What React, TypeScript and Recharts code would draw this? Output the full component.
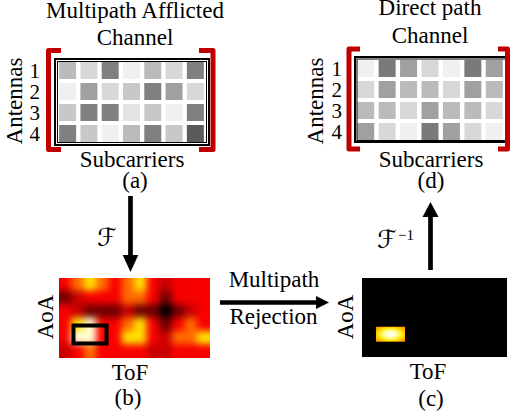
import { ScatterChart, Scatter, XAxis, YAxis, ReferenceArea } from 'recharts';

const SERIF = "'Liberation Serif', Tinos, 'DejaVu Serif', serif";
const RED = '#c00000';

// antenna x subcarrier magnitudes (grey level 0-255), rows = antennas 1..4
const antennas = ['1', '2', '3', '4'];
const afflictedGray = [
  [187, 216, 128, 240, 187, 216, 128],
  [240, 160, 216, 200, 128, 160, 216],
  [200, 128, 128, 228, 200, 240, 128],
  [128, 200, 240, 187, 128, 200, 90],
];
const directGray = [
  [240, 122, 160, 216, 240, 122, 160],
  [216, 160, 187, 187, 216, 160, 187],
  [187, 187, 216, 160, 187, 187, 216],
  [160, 216, 240, 122, 160, 216, 240],
];

// AoA x ToF spectrum, intensity level 0 (none) .. 6 (peak), rows top to bottom
const spectrumRows = [
  [3, 4, 5, 4, 3, 4, 5, 3, 2, 3, 3, 3],
  [1, 2, 3, 3, 3, 4, 4, 3, 1, 3, 3, 3],
  [3, 2, 1, 1, 1, 2, 1, 1, 0, 1, 2, 3],
  [3, 5, 6, 3, 3, 4, 5, 3, 1, 3, 4, 3],
  [3, 6, 6, 3, 3, 5, 5, 3, 2, 4, 4, 5],
  [2, 3, 4, 3, 3, 3, 3, 2, 2, 3, 3, 3],
];
const heatColors = ['#000000', '#700000', '#c80000', '#f80000', '#ff6a00', '#ffe000', '#ffffd8'];

// direct path region (ToF bins, AoA bins)
const selectedToF = [1.15, 3.78];
const selectedAoA = [3.56, 4.91];
const directPeak = [{ tof: 2.36, aoa: 4.27 }];
const directPeakToF = [1.16, 3.56];
const directPeakAoA = [3.7, 4.84];

type GridProps = { gray: number[][]; left: number; top: number; width: number; height: number; gap: number };

function ChannelGrid({ gray, left, top, width, height, gap }: GridProps) {
  const data = gray.flatMap((row, r) => row.map((g, c) => ({ sub: c + 0.5, ant: r + 0.5, g })));
  const cellShape = (p: any) => (
    <rect
      x={p.cx - 8.5}
      y={p.cy - 8.5}
      width={17}
      height={17}
      fill={`rgb(${p.payload.g},${p.payload.g},${p.payload.g})`}
    />
  );
  return (
    <div style={{ position: 'absolute', left, top }}>
      <ScatterChart width={width} height={height} margin={{ top: 0, right: 0, bottom: 0, left: 0 }}>
        <XAxis type="number" dataKey="sub" domain={[0, 7]} hide />
        <YAxis
          type="number"
          dataKey="ant"
          domain={[0, 4]}
          reversed
          ticks={[0.5, 1.5, 2.5, 3.5]}
          interval={0}
          tickFormatter={(v: number) => antennas[Math.floor(v)]}
          axisLine={false}
          tickLine={false}
          tickSize={0}
          tickMargin={gap}
          width={40}
          tick={{ fontSize: 21, fill: '#000', style: { fontFamily: SERIF } }}
        />
        <Scatter data={data} shape={cellShape} isAnimationActive={false} />
      </ScatterChart>
    </div>
  );
}

function Spectrum() {
  const data = spectrumRows.flatMap((row, r) => row.map((v, c) => ({ tof: c + 0.5, aoa: r + 0.5, v })));
  const cw = 151 / 12;
  const ch = 80 / 6;
  const cellShape = (p: any) => (
    <rect
      x={p.cx - cw / 2 - 0.5}
      y={p.cy - ch / 2 - 0.5}
      width={cw + 1}
      height={ch + 1}
      fill={heatColors[p.payload.v]}
    />
  );
  const center = [{ tof: (selectedToF[0] + selectedToF[1]) / 2, aoa: (selectedAoA[0] + selectedAoA[1]) / 2 }];
  return (
    <>
      <div className="spectrum" style={{ position: 'absolute', left: 59, top: 278 }}>
        <style>{'.spectrum .recharts-scatter { filter: url(#spectrumBlur); }'}</style>
        <ScatterChart width={151} height={80} margin={{ top: 0, right: 0, bottom: 0, left: 0 }}>
          <defs>
            <filter id="spectrumBlur" x="0" y="0" width="1" height="1" colorInterpolationFilters="sRGB">
              <feGaussianBlur stdDeviation="3.7" />
              <feComponentTransfer>
                <feFuncA type="table" tableValues="1 1" />
              </feComponentTransfer>
            </filter>
          </defs>
          <XAxis type="number" dataKey="tof" domain={[0, 12]} hide />
          <YAxis type="number" dataKey="aoa" domain={[0, 6]} reversed hide />
          <Scatter data={data} shape={cellShape} isAnimationActive={false} />
        </ScatterChart>
      </div>
      <div style={{ position: 'absolute', left: 59, top: 278 }}>
        <ScatterChart width={151} height={80} margin={{ top: 0, right: 0, bottom: 0, left: 0 }}>
          <XAxis type="number" dataKey="tof" domain={[0, 12]} hide />
          <YAxis type="number" dataKey="aoa" domain={[0, 6]} reversed hide />
          <ReferenceArea
            x1={selectedToF[0]}
            x2={selectedToF[1]}
            y1={selectedAoA[0]}
            y2={selectedAoA[1]}
            fill="#000"
            fillOpacity={0}
            stroke="#000"
            strokeWidth={4}
            strokeOpacity={1}
          />
          <Scatter data={center} isAnimationActive={false} shape={() => <g />} />
        </ScatterChart>
      </div>
    </>
  );
}

function DirectSpectrum() {
  return (
    <div style={{ position: 'absolute', left: 362, top: 278, background: '#000' }}>
      <ScatterChart width={145} height={79} margin={{ top: 0, right: 0, bottom: 0, left: 0 }}>
        <defs>
          <radialGradient id="peakGlow" cx="0.5" cy="0.5" r="0.6">
            <stop offset="0%" stopColor="#ffffff" />
            <stop offset="35%" stopColor="#ffffb0" />
            <stop offset="70%" stopColor="#ffe600" />
            <stop offset="100%" stopColor="#ff9a00" />
          </radialGradient>
        </defs>
        <XAxis type="number" dataKey="tof" domain={[0, 12]} hide />
        <YAxis type="number" dataKey="aoa" domain={[0, 6]} reversed hide />
        <ReferenceArea
          x1={directPeakToF[0]}
          x2={directPeakToF[1]}
          y1={directPeakAoA[0]}
          y2={directPeakAoA[1]}
          fill="url(#peakGlow)"
          fillOpacity={1}
          stroke="none"
        />
        <Scatter data={directPeak} isAnimationActive={false} shape={() => <g />} />
      </ScatterChart>
    </div>
  );
}

const T = { fontSize: 23, fill: '#000' } as const;
const SCRIPT = "'DejaVu Serif', 'DejaVu Sans'";

export default function App() {
  return (
    <div
      style={{
        position: 'absolute',
        left: 0,
        top: 0,
        width: 511,
        height: 414,
        background: '#fff',
        overflow: 'hidden',
        fontFamily: SERIF,
      }}
    >
      <ChannelGrid gray={afflictedGray} left={17} top={60} width={189} height={84} gap={17} />
      <ChannelGrid gray={directGray} left={315} top={58} width={190} height={84} gap={13} />
      <Spectrum />
      <DirectSpectrum />
      <svg width={511} height={414} style={{ position: 'absolute', left: 0, top: 0, pointerEvents: 'none' }}>
        {/* frames */}
        <rect x={55} y={59} width={154} height={86} fill="none" stroke="#000" strokeWidth={2} />
        <rect x={57.5} y={61.5} width={149} height={81} fill="none" stroke="#000" strokeWidth={1} />
        <rect x={355} y={57} width={152} height={85} fill="none" stroke="#000" strokeWidth={2} />
        <rect x={357} y={59} width={149} height={81.5} fill="none" stroke="#000" strokeWidth={1} />
        {/* brackets */}
        <g fill="none" stroke={RED} strokeWidth={5} strokeLinejoin="round">
          <path d="M61 50.5H48.5V149.5H61" />
          <path d="M199 50.5H213V149.5H199" />
          <path d="M360 49H349V149H360" />
          <path d="M498 49H507.5V149H498" />
        </g>
        {/* titles & labels */}
        <g textAnchor="middle" style={{ fontFamily: SERIF }} {...T}>
          <text x={135} y={18}>Multipath Afflicted</text>
          <text x={135} y={45}>Channel</text>
          <text x={132} y={167}>Subcarriers</text>
          <text x={135} y={188}>(a)</text>
          <text x={430} y={15}>Direct path</text>
          <text x={430} y={43}>Channel</text>
          <text x={431} y={167}>Subcarriers</text>
          <text x={431} y={188}>(d)</text>
          <text transform="translate(22,101) rotate(-90)">Antennas</text>
          <text transform="translate(323,101) rotate(-90)">Antennas</text>
          <text transform="translate(53,317) rotate(-90)">AoA</text>
          <text transform="translate(353,317) rotate(-90)">AoA</text>
          <text x={130} y={380}>ToF</text>
          <text x={128} y={405}>(b)</text>
          <text x={428} y={379}>ToF</text>
          <text x={431} y={406}>(c)</text>
          <text x={274} y={287}>Multipath</text>
          <text x={273.5} y={324}>Rejection</text>
        </g>
        <text x={97} y={246} style={{ fontFamily: SCRIPT }} fontSize={25}>ℱ</text>
        <text x={377} y={248} style={{ fontFamily: SCRIPT }} fontSize={25}>ℱ</text>
        <text x={398} y={240} style={{ fontFamily: SERIF }} fontSize={15} fill="#000">−1</text>
        {/* arrows */}
        <line x1={130.5} y1={196} x2={130.5} y2={257} stroke="#000" strokeWidth={4.7} />
        <polygon points="122.7,255 138.3,255 130.5,272" fill="#000" />
        <line x1={430.5} y1={270} x2={430.5} y2={215} stroke="#000" strokeWidth={4.7} />
        <polygon points="422.5,217 438.5,217 430.5,202" fill="#000" />
        <line x1={220} y1={302.5} x2={318} y2={302.5} stroke="#000" strokeWidth={4.7} />
        <polygon points="316,296 316,309 329,302.5" fill="#000" />
      </svg>
    </div>
  );
}
